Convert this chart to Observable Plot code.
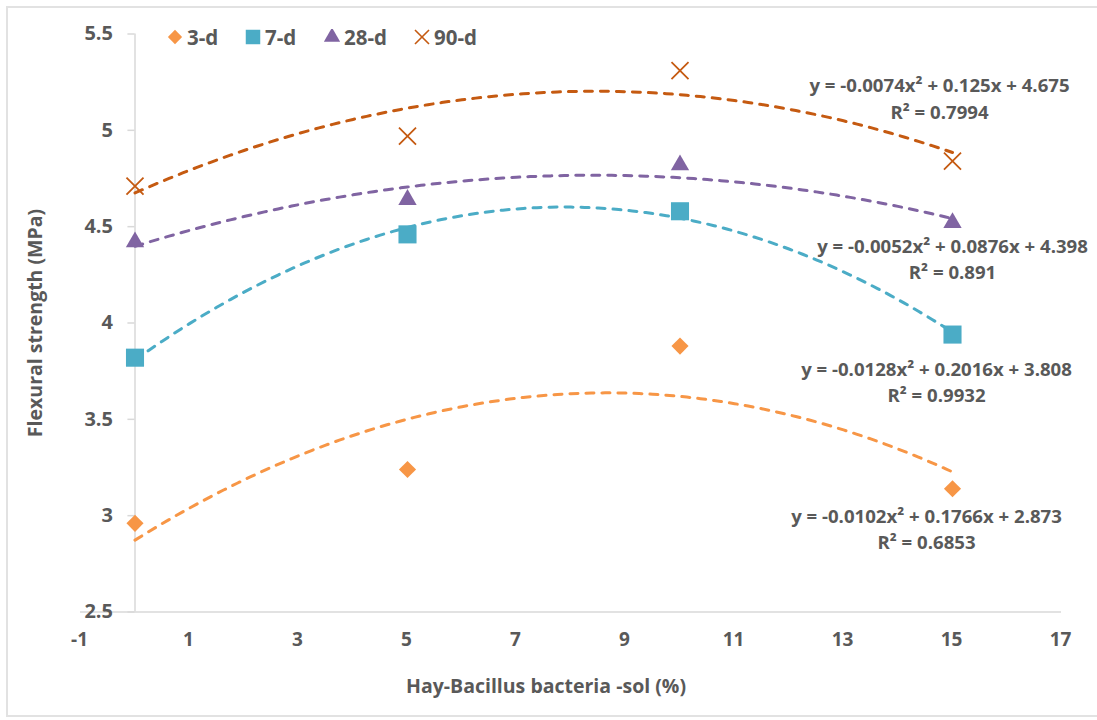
<!DOCTYPE html>
<html>
<head>
<meta charset="utf-8">
<script src="https://cdn.jsdelivr.net/npm/d3@7"></script>
<script src="https://cdn.jsdelivr.net/npm/@observablehq/plot@0.6"></script>
<style>
  html, body { margin: 0; padding: 0; background: #fff; }
  #wrap { position: relative; width: 1097px; height: 720px; overflow: hidden; font-family: "Open Sans", Lato, sans-serif; }
  #border { position: absolute; left: 6px; top: 6px; width: 1200px; height: 711px; border: 2px solid #e2e2e2; box-sizing: border-box; }
  #legend { position: absolute; top: 0; left: 0; font-weight: 700; font-size: 20.5px; color: #595959; }
  #legend .item { position: absolute; top: 23px; display: flex; align-items: center; white-space: nowrap; }
  #legend svg { margin-right: 4px; }
  #chart { position: absolute; left: 0; top: 0; }
</style>
</head>
<body>
<div id="wrap">
  <div id="border"></div>
  <div id="chart"></div>
  <div id="legend"></div>
</div>
<script>
// ---- data ----
const xValues = [0, 5, 10, 15];
const seriesNames = ["3-d", "7-d", "28-d", "90-d"];
const values3d  = [2.96, 3.24, 3.88, 3.14];
const values7d  = [3.82, 4.46, 4.58, 3.94];
const values28d = [4.42, 4.64, 4.82, 4.52];
const values90d = [4.71, 4.97, 5.31, 4.84];
// trendline coefficients (y = a x^2 + b x + c), as printed on the chart
const coefA = [-0.0102, -0.0128, -0.0052, -0.0074];
const coefB = [0.1766, 0.2016, 0.0876, 0.125];
const coefC = [2.873, 3.808, 4.398, 4.675];
const eqLabels = [
  "y = -0.0102x² + 0.1766x + 2.873",
  "y = -0.0128x² + 0.2016x + 3.808",
  "y = -0.0052x² + 0.0876x + 4.398",
  "y = -0.0074x² + 0.125x + 4.675"
];
const r2Labels = ["R² = 0.6853", "R² = 0.9932", "R² = 0.891", "R² = 0.7994"];
const xTicks = [-1, 1, 3, 5, 7, 9, 11, 13, 15, 17];
const yTicks = [2.5, 3, 3.5, 4, 4.5, 5, 5.5];
const xTitle = "Hay-Bacillus bacteria -sol (%)";
const yTitle = "Flexural strength (MPa)";

// ---- styles ----
const colors  = ["#F79646", "#4BACC6", "#8064A2", "#C55A11"];
const symbols = ["diamond2", "square", "triangle", "times"];
const radii   = [7.7, 10.2, 6.8, 7.8];
const labelOffsets = [
  {dx: -26, dy: 39},
  {dx: -16, dy: 46},
  {dx: 0, dy: 35},
  {dx: -13, dy: -64}
];
const legendLeft = [167, 245, 324, 414];
const textColor = "#595959";
const axisColor = "#d9d9d9";
const fontFamily = "'Open Sans', Lato, sans-serif";

const allValues = [values3d, values7d, values28d, values90d];
const points = seriesNames.flatMap((s, i) =>
  xValues.map((x, j) => ({series: s, i, x, y: allValues[i][j]})));

// trendline curves drawn from the printed polynomial over the data's x range
const xMin = d3.min(xValues), xMax = d3.max(xValues);
const curveXs = d3.range(xMin, xMax + 1e-9, (xMax - xMin) / 120);
const curves = seriesNames.flatMap((s, i) =>
  curveXs.map(x => ({series: s, i, x, y: coefA[i] * x * x + coefB[i] * x + coefC[i]})));

const marks = [
  // axes
  Plot.ruleY([yTicks[0]], {stroke: axisColor, strokeWidth: 1.5}),
  Plot.ruleX([0], {y1: yTicks[0], y2: yTicks[yTicks.length - 1], stroke: axisColor, strokeWidth: 1.5}),
  Plot.ruleY(yTicks, {y: d => d, x1: -0.13, x2: 0, stroke: axisColor, strokeWidth: 1.5}),
  Plot.text(yTicks, {x: 0, y: d => d, text: d => String(d), textAnchor: "end", dx: -22,
    fill: textColor, fontSize: 20, fontWeight: 700}),
  Plot.text(xTicks, {x: d => d, y: yTicks[0], text: d => String(d), dy: 28, dx: -1,
    fill: textColor, fontSize: 19, fontWeight: 700}),
  Plot.text([xTitle], {frameAnchor: "bottom", textAnchor: "middle", lineAnchor: "middle", dy: 75, dx: -25,
    fill: textColor, fontSize: 19.5, fontWeight: 700}),
  Plot.text([yTitle], {frameAnchor: "left", textAnchor: "middle", lineAnchor: "middle", rotate: -90, dx: -45,
    fill: textColor, fontSize: 19.5, fontWeight: 700}),
  // trendlines
  Plot.line(curves, {x: "x", y: "y", z: "series", stroke: d => colors[d.i], strokeWidth: 3,
    strokeDasharray: "8,8", strokeLinecap: "round", curve: "linear"}),
  // markers
  ...seriesNames.map((s, i) => Plot.dot(points.filter(d => d.i === i), {
    x: "x", y: "y", symbol: () => symbols[i], r: radii[i],
    fill: symbols[i] === "times" ? "none" : colors[i],
    stroke: symbols[i] === "times" ? colors[i] : "none",
    strokeWidth: 1.8
  })),
  // equation labels near each series' last point
  ...seriesNames.map((s, i) => Plot.text([i], {
    x: xValues[xValues.length - 1], y: allValues[i][xValues.length - 1],
    text: d => eqLabels[d] + "\n" + r2Labels[d],
    dx: labelOffsets[i].dx, dy: labelOffsets[i].dy, lineHeight: 1.4,
    fill: textColor, fontSize: 18.6, fontWeight: 700
  }))
];

const chart = Plot.plot({
  width: 1097,
  height: 720,
  marginLeft: 80,
  marginRight: 36,
  marginTop: 33.5,
  marginBottom: 108.5,
  style: {background: "transparent", fontFamily},
  x: {domain: [xTicks[0], xTicks[xTicks.length - 1]], axis: null},
  y: {domain: [yTicks[0], yTicks[yTicks.length - 1]], axis: null},
  symbol: {type: "identity"},
  marks
});
document.getElementById("chart").appendChild(chart);

// legend (HTML, overlaid at the top of the chart)
const legend = d3.select("#legend");
seriesNames.forEach((s, i) => {
  const item = legend.append("div").attr("class", "item").style("left", legendLeft[i] + "px");
  const svg = item.append("svg").attr("width", 16).attr("height", 16);
  const sym = d3.symbol(
    [d3.symbolDiamond2, d3.symbolSquare, d3.symbolTriangle, d3.symbolTimes][i],
    [130, 210, 115, 130][i])();
  svg.append("path").attr("d", sym).attr("transform", "translate(8,8)")
    .attr("fill", symbols[i] === "times" ? "none" : colors[i])
    .attr("stroke", symbols[i] === "times" ? colors[i] : "none")
    .attr("stroke-width", 1.6);
  item.append("span").text(s);
});
</script>
</body>
</html>
